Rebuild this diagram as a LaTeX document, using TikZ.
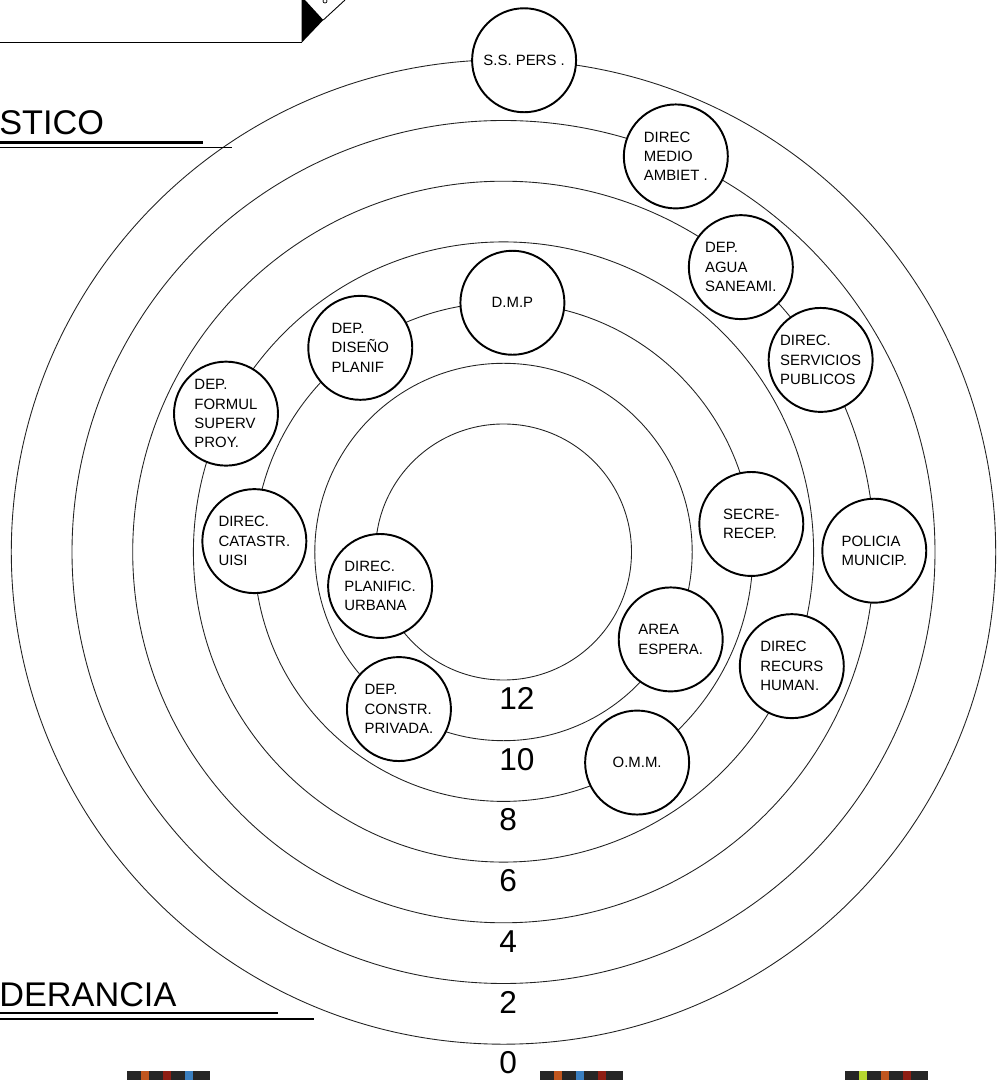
\documentclass[tikz,border=0pt]{standalone}
\usepackage{fontspec}
\setmainfont{Liberation Sans}
\definecolor{inkgray}{HTML}{222222}
\definecolor{stripeorange}{HTML}{C0561E}
\definecolor{stripered}{HTML}{8E1E14}
\definecolor{stripeblue}{HTML}{3A7FC0}
\definecolor{stripelime}{HTML}{B5D630}

\begin{document}
\begin{tikzpicture}[
    x=0.02cm, y=0.02cm,
    ring/.style={line width=0.5pt, inkgray},
    office/.style={circle, draw, line width=1.1pt, fill=white, minimum size=2.08cm,
        inner sep=0pt, align=left, font=\fontsize{8.5}{11}\selectfont},
    level/.style={anchor=west, inner sep=0pt, font=\fontsize{18}{18}\selectfont},
    heading/.style={anchor=base west, inner sep=0pt, font=\fontsize{19.5}{20}\selectfont}
]
\useasboundingbox (0,0) rectangle (1005,1080);

% 1. Ring parameters
\pgfmathsetmacro{\rInner}{128}
\pgfmathsetmacro{\rStep}{60.7}
\coordinate (C) at (503.5,528);

\begin{scope}[shift={(C)}]
% 2. Concentric rings
\foreach \k in {0,...,6} {
    \draw[ring] (0,0) circle[radius={\rInner+\k*\rStep}];
}

% 3. Level numbers under each ring
\foreach \k/\lab in {0/12, 1/10, 2/8, 3/6, 4/4, 5/2, 6/0} {
    \node[level] (lev\lab) at (-4.5, {-(\rInner+\k*\rStep)-18.5}) {\lab};
}

% 4. Offices (placed on their ring)
\node[office] (urbana) at (195.4:{\rInner}) {DIREC.\\PLANIFIC.\\URBANA};
\node[office] (espera) at (-27.6:{\rInner+\rStep}) {AREA\\ESPERA.};
\node[office] (constr) at (-123.65:{\rInner+\rStep}) {DEP.\\CONSTR.\\PRIVADA.};
\node[office] (dmp) at (87.95:{\rInner+2*\rStep}) {D.M.P};
\node[office] (diseno) at (125.05:{\rInner+2*\rStep}) {DEP.\\DISEÑO\\PLANIF};
\node[office] (catastr) at (177.5:{\rInner+2*\rStep}) {DIREC.\\CATASTR.\\UISI};
\node[office] (secre) at (6.45:{\rInner+2*\rStep}) {SECRE-\\RECEP.};
\node[office] (omm) at (-57.6:{\rInner+2*\rStep}) {O.M.M.};
\node[office] (formul) at (153.5:{\rInner+3*\rStep}) {DEP.\\FORMUL\\SUPERV\\PROY.};
\node[office] (recurs) at (-21.6:{\rInner+3*\rStep}) {DIREC\\RECURS\\HUMAN.};
\node[office] (agua) at (50.2:{\rInner+4*\rStep}) {DEP.\\AGUA\\SANEAMI.};
\node[office] (servicios) at (31.2:{\rInner+4*\rStep}) {DIREC.\\SERVICIOS\\PUBLICOS};
\node[office] (policia) at (0.2:{\rInner+4*\rStep}) {POLICIA\\MUNICIP.};
\node[office] (medio) at (66.46:{\rInner+5*\rStep}) {DIREC\\MEDIO\\AMBIET .};
\node[office] (ssp) at (87.6:{\rInner+6*\rStep}) {S.S. PERS .};
\end{scope}

% 5. Headings cut at the left edge
\node[heading] (diag) at (-1,945) {STICO};
\draw[line width=1.5pt] (0,937.3) -- (203,937.3);
\draw[line width=0.6pt] (0,932.3) -- (232,932.3);

\node[heading] (pond) at (-1,73) {DERANCIA};
\draw[line width=1.5pt] (0,67) -- (278,67);
\draw[line width=0.6pt] (0,61) -- (314,61);

% 6. Frame corner at the top
\draw[line width=0.7pt] (0,1037.5) -- (301.7,1037.5);
\fill (301.7,1080) -- (305,1080) -- (323.3,1060) -- (301.7,1037.3) -- cycle;
\draw[line width=0.5pt] (323.3,1060) -- (345,1080);
\draw[line width=0.4pt] (325,1079) circle[radius=2];

% 7. Colour strips at the bottom
\foreach \bx/\ca/\cb/\cc in {127/stripeorange/stripered/stripeblue,
                              540/stripeorange/stripeblue/stripered,
                              845/stripelime/stripeorange/stripered} {
    \fill[black!85] (\bx,0) rectangle ++(83,9);
    \fill[\ca] (\bx+14,0) rectangle ++(8,9);
    \fill[\cb] (\bx+36,0) rectangle ++(8,9);
    \fill[\cc] (\bx+58,0) rectangle ++(8,9);
}

\end{tikzpicture}
\end{document}
